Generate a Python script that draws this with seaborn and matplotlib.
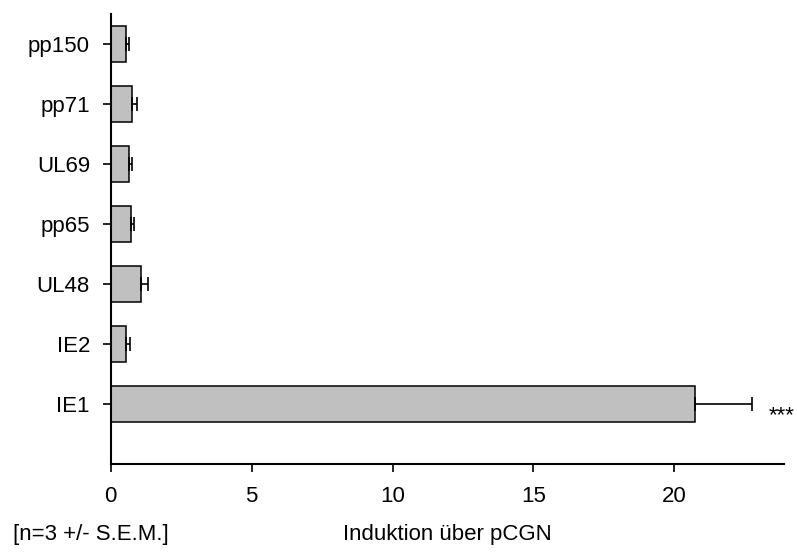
import matplotlib
matplotlib.use("Agg")
import matplotlib.pyplot as plt
import seaborn as sns
import pandas as pd
import numpy as np

categories = ["pp150", "pp71", "UL69", "pp65", "UL48", "IE2", "IE1"]
values = [0.53, 0.74, 0.65, 0.73, 1.06, 0.54, 20.72]
sem = [0.10, 0.18, 0.09, 0.08, 0.25, 0.15, 2.04]
xticks = [0, 5, 10, 15, 20]

sns.set_theme(style="ticks")
plt.rcParams["font.family"] = ["Liberation Sans", "DejaVu Sans"]
plt.rcParams["text.color"] = "black"

df = pd.DataFrame({"gene": categories, "value": values})

fig = plt.figure(figsize=(7.97, 5.52), dpi=100)
ax = fig.add_axes([0.139, 0.159, 0.845, 0.816])

sns.barplot(data=df, x="value", y="gene", order=categories, orient="h",
            color="#c0c0c0", edgecolor="black", linewidth=1.1, width=0.6,
            saturation=1, errorbar=None, ax=ax)

ypos = np.arange(len(categories))
ax.errorbar(values, ypos, xerr=[np.zeros(len(sem)), sem], fmt="none",
            ecolor="black", elinewidth=1.2, capsize=5, capthick=1.2, zorder=3)

ax.set_xlim(0, 23.9)
ax.set_ylim(7.0, -0.5)
ax.set_xticks(xticks)
ax.set_xticklabels([str(t) for t in xticks])
ax.set_xlabel("")
ax.set_ylabel("")
for s in ["top", "right"]:
    ax.spines[s].set_visible(False)
for s in ["left", "bottom"]:
    ax.spines[s].set_color("black")
    ax.spines[s].set_linewidth(1.5)
ax.tick_params(axis="both", colors="black", labelsize=16, length=6, width=1.2)
ax.tick_params(axis="x", pad=10)
ax.tick_params(axis="y", pad=9)

ax.text(values[-1] + sem[-1] + 0.6, 6.29, "***", fontsize=16, va="baseline",
        ha="left", color="black", clip_on=False)

fig.text(0.016, 1 - 540 / 552, "[n=3 +/- S.E.M.]", fontsize=16, ha="left",
         va="baseline", color="black")
fig.text(0.139 + 0.845 / 2, 1 - 540 / 552, "Induktion über pCGN", fontsize=16,
         ha="center", va="baseline", color="black")

fig.savefig("out.png", dpi=100)
